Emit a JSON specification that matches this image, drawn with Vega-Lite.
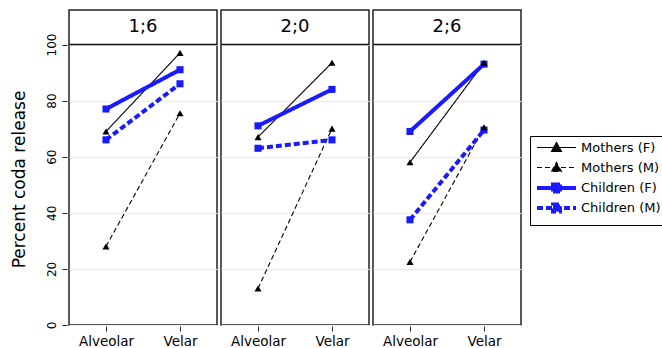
{
  "$schema": "https://vega.github.io/schema/vega-lite/v6.json",
  "padding": {"left": 10, "top": 9, "right": 0, "bottom": 0},
  "background": "white",
  "config": {
    "font": "DejaVu Sans",
    "view": {"stroke": "#222222", "strokeWidth": 1.5},
    "axis": {"labelColor": "black", "titleColor": "black", "tickColor": "#222222", "domain": false},
    "axisX": {"title": null, "labelAngle": 0, "labelFontSize": 13.5, "tickSize": 5, "labelPadding": 3, "grid": false},
    "axisY": {"titleFontSize": 17, "titleFontWeight": "normal", "titlePadding": 17, "titleY": 169,
              "labelFontSize": 12, "labelAngle": 270, "labelAlign": "center", "labelBaseline": "bottom", "labelPadding": 4,
              "tickSize": 5, "grid": true, "gridColor": "#e3eeee", "gridWidth": 1.2}
  },
  "data": {"values": [
    {"age": "1;6", "place": "Alveolar", "series": "Mothers (F)", "value": 69},
    {"age": "1;6", "place": "Velar", "series": "Mothers (F)", "value": 97},
    {"age": "1;6", "place": "Alveolar", "series": "Mothers (M)", "value": 28},
    {"age": "1;6", "place": "Velar", "series": "Mothers (M)", "value": 75.5},
    {"age": "1;6", "place": "Alveolar", "series": "Children (F)", "value": 77},
    {"age": "1;6", "place": "Velar", "series": "Children (F)", "value": 91},
    {"age": "1;6", "place": "Alveolar", "series": "Children (M)", "value": 66},
    {"age": "1;6", "place": "Velar", "series": "Children (M)", "value": 86},
    {"age": "2;0", "place": "Alveolar", "series": "Mothers (F)", "value": 67},
    {"age": "2;0", "place": "Velar", "series": "Mothers (F)", "value": 93.5},
    {"age": "2;0", "place": "Alveolar", "series": "Mothers (M)", "value": 13},
    {"age": "2;0", "place": "Velar", "series": "Mothers (M)", "value": 70},
    {"age": "2;0", "place": "Alveolar", "series": "Children (F)", "value": 71},
    {"age": "2;0", "place": "Velar", "series": "Children (F)", "value": 84},
    {"age": "2;0", "place": "Alveolar", "series": "Children (M)", "value": 63},
    {"age": "2;0", "place": "Velar", "series": "Children (M)", "value": 66},
    {"age": "2;6", "place": "Alveolar", "series": "Mothers (F)", "value": 58},
    {"age": "2;6", "place": "Velar", "series": "Mothers (F)", "value": 93.5},
    {"age": "2;6", "place": "Alveolar", "series": "Mothers (M)", "value": 22.5},
    {"age": "2;6", "place": "Velar", "series": "Mothers (M)", "value": 70.5},
    {"age": "2;6", "place": "Alveolar", "series": "Children (F)", "value": 69},
    {"age": "2;6", "place": "Velar", "series": "Children (F)", "value": 93},
    {"age": "2;6", "place": "Alveolar", "series": "Children (M)", "value": 37.5},
    {"age": "2;6", "place": "Velar", "series": "Children (M)", "value": 69.5}
  ]},
  "facet": {"column": {"field": "age", "type": "nominal", "header": {"title": null, "labels": false, "labelPadding": 0, "titlePadding": 0}}},
  "spacing": 0,
  "spec": {
    "width": 148,
    "height": 315,
    "layer": [
      {
        "mark": {"type": "line"},
        "encoding": {
          "x": {"field": "place", "type": "nominal", "scale": {"type": "point", "padding": 0.5}},
          "y": {"field": "value", "type": "quantitative",
                "scale": {"domain": [0, 112.3], "nice": false, "zero": false},
                "axis": {"title": "Percent coda release", "values": [0, 20, 40, 60, 80, 100]}},
          "detail": {"field": "series"},
          "order": {"field": "series", "sort": "ascending"},
          "color": {"field": "series", "type": "nominal",
                    "scale": {"domain": ["Mothers (F)", "Mothers (M)", "Children (F)", "Children (M)"], "range": ["black", "black", "#1a1aff", "#1a1aff"]},
                    "legend": {
                      "title": null, "orient": "none", "legendX": 461, "legendY": 126,
                      "strokeColor": "black", "fillColor": "white", "padding": 5,
                      "labelFontSize": 13, "labelColor": "black", "symbolSize": 100, "rowPadding": -4, "gridAlign": "all", "labelOffset": 32,
                      "encode": {"symbols": {"update": {
                        "shape": {"signal": "indexof(datum.value, 'Mothers') >= 0 ? 'M-1,0H6.8M1.9,0.8L2.9,-1L3.9,0.8Z' : 'M-1,0H6.8M2.2,-0.7H3.6V0.7H2.2Z'"},
                        "fill": {"signal": "indexof(datum.value, 'Mothers') >= 0 ? 'black' : '#1a1aff'"},
                        "opacity": {"value": 1}
                      }}}
                    }},
          "strokeDash": {"field": "series", "type": "nominal",
                         "scale": {"domain": ["Mothers (F)", "Mothers (M)", "Children (F)", "Children (M)"], "range": [[1, 0], [5, 3], [1, 0], [6, 3]]}},
          "strokeWidth": {"field": "series", "type": "ordinal",
                          "scale": {"type": "ordinal", "domain": ["Mothers (F)", "Mothers (M)", "Children (F)", "Children (M)"], "range": [1.1, 1.1, 4, 4]}}
        }
      },
      {
        "transform": [{"filter": "indexof(datum.series, 'Children') >= 0"}],
        "mark": {"type": "point", "filled": true, "opacity": 1, "size": 50, "shape": "square", "color": "#1a1aff"},
        "encoding": {
          "x": {"field": "place", "type": "nominal"},
          "y": {"field": "value", "type": "quantitative"}
        }
      },
      {
        "transform": [{"filter": "indexof(datum.series, 'Mothers') >= 0"}],
        "mark": {"type": "point", "filled": true, "opacity": 1, "size": 50, "shape": "triangle-up", "color": "black"},
        "encoding": {
          "x": {"field": "place", "type": "nominal"},
          "y": {"field": "value", "type": "quantitative"}
        }
      },
      {
        "transform": [{"filter": "datum.series === 'Mothers (F)' && datum.place === 'Alveolar'"}],
        "mark": {"type": "rule", "color": "#111111", "strokeWidth": 1.3},
        "encoding": {"y": {"datum": 100, "type": "quantitative"}}
      },
      {
        "transform": [{"filter": "datum.series === 'Mothers (F)' && datum.place === 'Alveolar'"}],
        "mark": {"type": "text", "fontSize": 18, "color": "black", "baseline": "middle"},
        "encoding": {
          "y": {"datum": 106.2, "type": "quantitative"},
          "text": {"field": "age"}
        }
      }
    ]
  }
}
